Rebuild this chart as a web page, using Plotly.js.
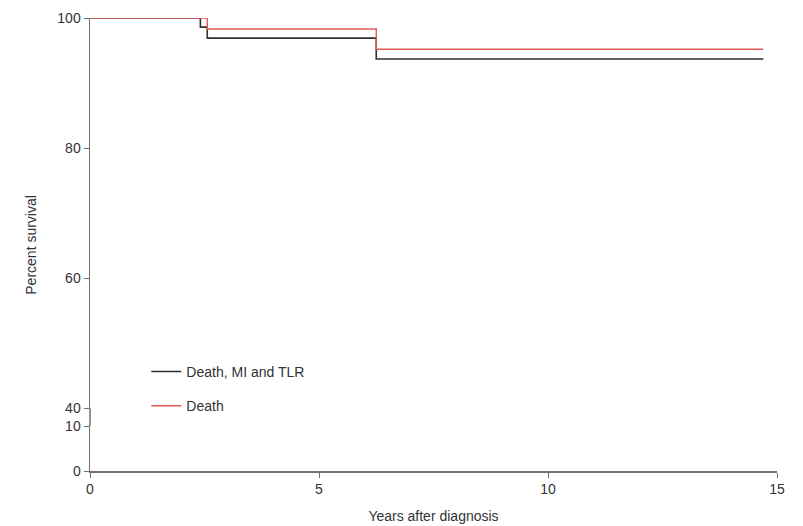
<!DOCTYPE html>
<html>
<head>
<meta charset="utf-8">
<script src="https://cdn.plot.ly/plotly-3.0.1.min.js"></script>
<style>html,body{margin:0;padding:0;background:#fff;}#chart{width:803px;height:526px;}</style>
</head>
<body>
<div id="chart"></div>
<script>
// Data
const seriesNames = ["Death, MI and TLR", "Death"];
const blackYears = [0, 2.41, 2.56, 6.25, 14.7];
const blackSurvival = [100, 98.6, 96.9, 93.7, 93.7];
const redYears = [0, 2.56, 6.25, 14.7];
const redSurvival = [100, 98.3, 95.2, 95.2];
const xTicks = [0, 5, 10, 15];
const yUpperTicks = [40, 60, 80, 100];
const yLowerTicks = [0, 10];

const axisColor = "#707070";
const textColor = "#333333";
const fontFam = "Liberation Sans, Arial, sans-serif";

const traces = [
  {x: blackYears, y: blackSurvival, name: seriesNames[0], mode: "lines",
   line: {shape: "hv", color: "#303030", width: 1.6}, xaxis: "x", yaxis: "y", legendgroup: "a"},
  {x: redYears, y: redSurvival, name: seriesNames[1], mode: "lines",
   line: {shape: "hv", color: "#e05a5a", width: 1.4}, xaxis: "x", yaxis: "y", legendgroup: "b"},
  // empty trace so the lower (0-10) segment of the broken axis is drawn
  {x: [null], y: [null], mode: "lines", xaxis: "x", yaxis: "y2", showlegend: false, hoverinfo: "skip"}
];

const lowerTop = (471 - 426) / 453;
const upperBottom = (471 - 408) / 453;

const layout = {
  width: 803, height: 526,
  margin: {l: 90, r: 26, t: 18, b: 55},
  paper_bgcolor: "#fff", plot_bgcolor: "#fff",
  font: {family: fontFam, size: 14, color: textColor},
  showlegend: true,
  legend: {x: 0.082, y: 0.254, xanchor: "left", yanchor: "top", bgcolor: "rgba(0,0,0,0)",
           font: {size: 14, color: textColor}, tracegroupgap: 13, itemwidth: 30},
  xaxis: {range: [0, 15], anchor: "y2", tickvals: xTicks, ticks: "outside", ticklen: 5,
          tickcolor: axisColor, showline: true, linecolor: axisColor, linewidth: 1.5,
          showgrid: false, zeroline: false, tickfont: {size: 14, color: textColor},
          title: {text: "Years after diagnosis", font: {size: 14, color: textColor}, standoff: 15}},
  yaxis: {domain: [upperBottom, 1], range: [40, 100], anchor: "x", tickvals: yUpperTicks,
          ticks: "outside", ticklen: 5, tickcolor: axisColor, showline: true, linecolor: axisColor,
          linewidth: 1.5, showgrid: false, zeroline: false, tickfont: {size: 14, color: textColor}},
  yaxis2: {domain: [0, lowerTop], range: [0, 10], anchor: "x", tickvals: yLowerTicks,
           ticks: "outside", ticklen: 5, tickcolor: axisColor, showline: true, linecolor: axisColor,
           linewidth: 1.5, showgrid: false, zeroline: false, tickfont: {size: 14, color: textColor}},
  shapes: [
    {type: "line", xref: "paper", yref: "paper", x0: 0, x1: 0, y0: lowerTop, y1: upperBottom,
     line: {color: axisColor, width: 1.5}}
  ],
  annotations: [
    {text: "Percent survival", xref: "paper", yref: "paper", x: -0.087, y: 0.5,
     xanchor: "center", yanchor: "middle", textangle: -90, showarrow: false,
     font: {size: 14, color: textColor}}
  ]
};

Plotly.newPlot("chart", traces, layout, {displayModeBar: false, staticPlot: true});
</script>
</body>
</html>
